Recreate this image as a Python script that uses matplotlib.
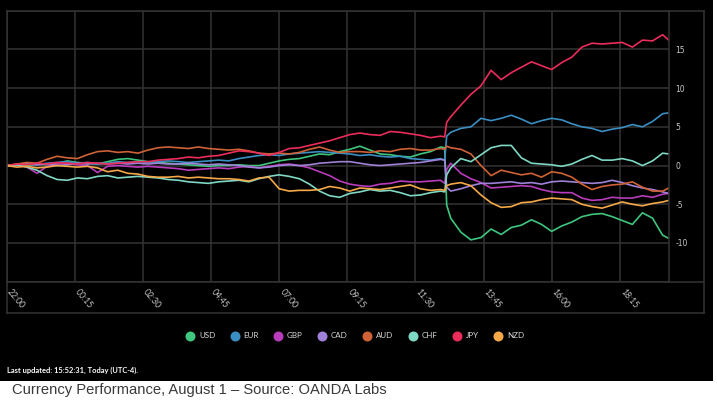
import matplotlib
matplotlib.use('Agg')
import matplotlib.pyplot as plt
from matplotlib.lines import Line2D
from matplotlib.patches import Rectangle

# minutes after 22:00 (previous day, UTC); the jump is the 12:30 NFP release
minutes = [0, 20, 40, 60, 80, 100, 120, 140, 160, 180, 200, 220, 240, 260, 280, 300,
           320, 340, 360, 380, 400, 420, 440, 460, 480, 500, 520, 540, 560, 580, 600,
           620, 640, 660, 680, 700, 720, 740, 760, 780, 800, 820, 840, 860, 868, 872,
           880, 900, 920, 940, 960, 980, 1000, 1020, 1040, 1060, 1080, 1100, 1120,
           1140, 1160, 1180, 1200, 1220, 1240, 1260, 1280, 1300, 1312]

usd = [0, 0.1, 0.0, 0.2, 0.1, 0.3, 0.6, 0.4, 0.3, 0.2, 0.5, 0.8, 0.9, 0.7, 0.5, 0.4,
       0.3, 0.2, 0.1, 0.0, -0.1, 0.0, 0.0, 0.1, 0.0, 0.0, 0.3, 0.6, 0.8, 0.9, 1.2,
       1.5, 1.4, 1.8, 2.1, 2.5, 2.0, 1.5, 1.4, 1.2, 1.1, 1.5, 1.8, 2.4, 2.3, -5.1,
       -6.8, -8.6, -9.6, -9.3, -8.2, -8.9, -8.0, -7.7, -7.0, -7.6, -8.5, -7.8, -7.3,
       -6.6, -6.3, -6.2, -6.6, -7.1, -7.6, -6.1, -6.8, -9.0, -9.4]
eur = [0, 0.1, 0.2, 0.1, 0.3, 0.4, 0.5, 0.3, 0.4, 0.2, 0.3, 0.5, 0.4, 0.5, 0.4, 0.5,
       0.6, 0.5, 0.4, 0.5, 0.6, 0.7, 0.6, 0.9, 1.1, 1.3, 1.4, 1.3, 1.5, 1.6, 1.7,
       1.8, 1.7, 1.6, 1.5, 1.3, 1.4, 1.2, 1.1, 1.2, 0.9, 0.8, 0.7, 0.9, 0.7, 3.8,
       4.3, 4.8, 5.0, 6.1, 5.8, 6.1, 6.5, 6.0, 5.4, 5.8, 6.1, 5.9, 5.4,
       5.0, 4.8, 4.4, 4.7, 4.9, 5.3, 5.0, 5.7, 6.7, 6.8]
gbp = [0, 0.1, -0.2, -1.0, -0.1, 0.2, 0.3, 0.1, 0.0, -0.9, -0.1, 0.0, -0.1, -0.2, -0.1, -0.2,
       -0.3, -0.4, -0.6, -0.5, -0.4, -0.3, -0.4, -0.2, -0.1, -0.3, -0.1, 0.1, 0.2, 0.0, -0.3,
       -0.8, -1.3, -2.0, -2.4, -2.6, -2.7, -2.4, -2.3, -2.0, -2.1, -2.1, -2.0, -1.9, -2.3, -0.5,
       0.3, -1.0, -1.7, -2.2, -2.9, -2.8, -2.7, -2.6, -2.7, -3.1, -3.4, -3.5, -3.5,
       -4.2, -4.5, -4.4, -4.1, -4.2, -4.2, -3.9, -4.1, -3.7, -3.6]
cad = [0, 0.1, 0.2, 0.1, 0.2, 0.0, 0.1, 0.3, 0.2, 0.3, 0.2, 0.3, 0.2, 0.3, 0.2, 0.3,
       0.2, 0.2, 0.3, 0.2, 0.1, 0.2, 0.1, 0.0, -0.2, -0.3, -0.2, 0.0, 0.1, 0.0, 0.1,
       0.3, 0.4, 0.5, 0.5, 0.3, 0.1, 0.0, 0.1, 0.2, 0.3, 0.4, 0.6, 0.8, 0.7, -2.8,
       -3.3, -3.0, -2.6, -2.3, -2.3, -2.2, -2.1, -2.3, -2.2, -2.4, -2.1, -2.0, -2.1,
       -2.2, -2.3, -2.2, -1.9, -2.2, -2.6, -2.9, -3.1, -3.4, -3.6]
aud = [0, 0.2, 0.4, 0.3, 0.8, 1.2, 1.0, 0.9, 1.4, 1.8, 1.9, 1.7, 1.8, 1.6, 2.0, 2.3,
       2.4, 2.3, 2.2, 2.4, 2.2, 2.1, 2.0, 2.1, 1.9, 1.6, 1.5, 1.6, 1.5, 1.7, 2.1,
       2.4, 2.0, 1.7, 1.8, 1.8, 1.7, 1.9, 1.8, 2.1, 2.2, 2.0, 2.0, 2.2, 2.1, 2.5,
       2.3, 2.1, 1.5, 0.0, -1.3, -0.6, -0.9, -1.2, -1.0, -1.5, -0.8, -1.0, -1.5,
       -2.4, -3.1, -2.7, -2.5, -2.4, -2.1, -2.8, -3.3, -3.3, -2.9]
chf = [0, 0.1, -0.2, -0.6, -1.3, -1.8, -1.9, -1.6, -1.7, -1.4, -1.3, -1.6, -1.5, -1.4, -1.5, -1.6,
       -1.8, -1.9, -2.1, -2.2, -2.3, -2.1, -2.0, -1.9, -2.1, -1.7, -1.4, -1.2, -1.4, -1.7, -2.4,
       -3.3, -3.9, -4.1, -3.6, -3.4, -3.1, -3.3, -3.2, -3.5, -3.9, -3.8, -3.5, -3.3, -3.4, -1.2,
       -0.3, 0.9, 0.5, 1.4, 2.3, 2.6, 2.6, 1.0, 0.3, 0.2, 0.1, -0.1, 0.2,
       0.8, 1.3, 0.7, 0.7, 0.9, 0.6, 0.0, 0.6, 1.6, 1.5]
jpy = [0, 0.2, 0.1, 0.3, 0.2, 0.4, 0.3, 0.2, 0.4, 0.3, 0.2, 0.3, 0.4, 0.5, 0.5, 0.7,
       0.8, 0.9, 1.1, 1.0, 1.2, 1.3, 1.6, 1.9, 1.8, 1.6, 1.3, 1.7, 2.2, 2.3, 2.6,
       2.9, 3.2, 3.6, 4.0, 4.2, 4.0, 3.9, 4.4, 4.3, 4.1, 3.9, 3.6, 3.8, 3.7, 5.6,
       6.3, 7.8, 9.2, 10.3, 12.3, 11.1, 12.0, 12.7, 13.4, 12.9, 12.4, 13.3, 14.0,
       15.3, 15.8, 15.7, 15.8, 15.9, 15.3, 16.2, 16.1, 16.9, 16.2]
nzd = [0, -0.2, -0.1, -0.3, -0.2, 0.0, -0.1, -0.2, -0.1, -0.3, -0.8, -0.6, -1.0, -1.1, -1.4, -1.5,
       -1.5, -1.4, -1.6, -1.5, -1.6, -1.7, -1.7, -1.8, -2.0, -1.6, -1.5, -3.0, -3.3, -3.2, -3.2,
       -3.1, -2.7, -2.9, -3.3, -2.9, -3.0, -3.1, -2.9, -2.7, -2.5, -3.0, -3.2, -3.1, -3.2, -2.6,
       -2.4, -2.2, -2.6, -3.8, -4.8, -5.4, -5.3, -4.8, -4.7, -4.4, -4.2, -4.3, -4.4,
       -5.0, -5.3, -5.5, -5.1, -4.7, -5.0, -5.2, -4.9, -4.7, -4.5]

names = ['USD', 'EUR', 'GBP', 'CAD', 'AUD', 'CHF', 'JPY', 'NZD']
series = [usd, eur, gbp, cad, aud, chf, jpy, nzd]
colors = ['#3fc67e', '#3b8ec2', '#b93cbc', '#9f82d8', '#cf6236', '#7fd8c4', '#ec2d5a', '#f4a848']

tick_minutes = [0, 135, 270, 405, 540, 675, 810, 945, 1080, 1215]
tick_labels = ['22:00', '00:15', '02:30', '04:45', '07:00', '09:15', '11:30', '13:45', '16:00', '18:15']
y_ticks = [-15, -10, -5, 0, 5, 10, 15, 20]

W, H = 717, 400
grid_c = '#333333'


def fx(x):
    return x / W


def fy(y):
    return 1 - y / H


fig = plt.figure(figsize=(W / 100, H / 100), dpi=100, facecolor='white')
fig.add_artist(Rectangle((0, fy(381)), fx(713), 381 / H, transform=fig.transFigure,
                         facecolor='black', edgecolor='none', zorder=0))

left, right, top, bottom = 6.7, 668.7, 10.7, 281.7
ax = fig.add_axes([fx(left), fy(bottom), fx(right - left), (bottom - top) / H])
ax.set_facecolor('black')

for vals, c in zip(series, colors):
    ax.plot(minutes, vals, color=c, lw=1.2, solid_joinstyle='round')

ax.set_xlim(0, minutes[-1])
ax.set_ylim(-15, 20)
ax.set_xticks(tick_minutes)
ax.set_xticklabels([])
ax.set_yticks(y_ticks)
ax.set_yticklabels(['' if v in (-15, 20) else str(v) for v in y_ticks])
ax.yaxis.tick_right()
ax.tick_params(axis='both', length=0, colors='#c8c8c8', labelsize=5.5, pad=5)
ax.grid(True, color=grid_c, lw=1.1)
for s in ax.spines.values():
    s.set_color(grid_c)
    s.set_linewidth(1.1)

# rotated time labels in the strip under the plot
for m, lab in zip(tick_minutes, tick_labels):
    ax.annotate(lab, (m, -15), xytext=(1.5, -6.5), textcoords='offset points',
                rotation=-50, rotation_mode='anchor', ha='left', va='center',
                fontsize=6.2, color='#c8c8c8', family='Lato', annotation_clip=False)

# outer frame around plot and label strip
frame = [((left, bottom), (left, 313.3)), ((left, 313.3), (704.3, 313.3)),
         ((704.3, top), (704.3, 313.3)), ((right, top), (704.3, top)),
         ((right, bottom), (704.3, bottom))]
for (x0, y0), (x1, y1) in frame:
    fig.add_artist(Line2D([fx(x0), fx(x1)], [fy(y0), fy(y1)], color=grid_c, lw=1.1,
                          transform=fig.transFigure))

handles = [Line2D([], [], ls='none', marker='o', markersize=7.2, markerfacecolor=c,
                  markeredgecolor='none') for c in colors]
leg = fig.legend(handles, names, loc='center', bbox_to_anchor=(fx(355), fy(336)), ncol=8,
                 frameon=False, handletextpad=0.6, columnspacing=1.9, handlelength=1.0,
                 prop={'family': 'Lato', 'size': 5.8})
for t in leg.get_texts():
    t.set_color('#d8d8d8')

fig.text(fx(7), fy(370), 'Last updated: 15:52:31, Today (UTC-4).', color='white',
         fontsize=5.4, fontweight='bold', family='Lato', va='center', ha='left')
fig.text(fx(12), fy(390), 'Currency Performance, August 1 \u2013 Source: OANDA Labs',
         color='#3a3a3a', fontsize=10.6, family='Liberation Sans', va='center', ha='left')

fig.savefig('out.png', dpi=100, facecolor='white')
